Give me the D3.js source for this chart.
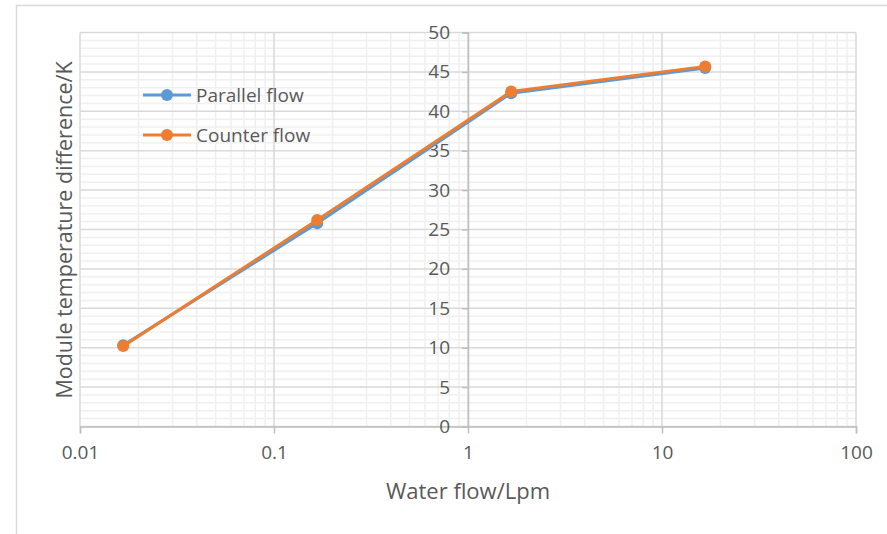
<!DOCTYPE html>
<html>
<head>
<style>
  body { margin: 0; background: #fff; }
  text { font-family: "Open Sans", sans-serif; fill: #595959; }
</style>
</head>
<body>
<div id="chart"></div>
<script src="https://d3js.org/d3.v7.min.js"></script>
<script>
// data
var flow = [0.0167, 0.167, 1.67, 16.7]
var parallelFlow = [10.3, 25.8, 42.3, 45.5]
var counterFlow = [10.2, 26.2, 42.5, 45.7]
var xTicks = [0.01, 0.1, 1, 10, 100]
var yTicks = [0, 5, 10, 15, 20, 25, 30, 35, 40, 45, 50]
var seriesNames = ["Parallel flow", "Counter flow"]
var seriesColors = ["#5b9bd5", "#ed7d31"]

var width = 887, height = 534

var svg = d3.select("#chart").append("svg")
  .attr("width", width)
  .attr("height", height)

// outer chart frame
svg.append("rect")
  .attr("x", 16.5).attr("y", 5.5)
  .attr("width", 900).attr("height", 600)
  .attr("fill", "none").attr("stroke", "#d9d9d9").attr("stroke-width", 1.5)

var x = d3.scaleLog().domain([0.01, 100]).range([80, 856])
var y = d3.scaleLinear().domain([0, 50]).range([426.5, 32.5])

var grid = svg.append("g")

// minor vertical gridlines (2..9 of each decade)
var minorX = []
xTicks.slice(0, -1).forEach(function(d) {
  for (var k = 2; k <= 9; k++) minorX.push(d * k)
})
grid.selectAll(".vminor").data(minorX).enter().append("line")
  .attr("x1", function(d) { return x(d) }).attr("x2", function(d) { return x(d) })
  .attr("y1", y(0)).attr("y2", y(50))
  .attr("stroke", "#f0f0f0").attr("stroke-width", 1.5)

// minor horizontal gridlines every 1
var minorY = d3.range(0, 51).filter(function(d) { return d % 5 != 0 })
grid.selectAll(".hminor").data(minorY).enter().append("line")
  .attr("x1", x(0.01)).attr("x2", x(100))
  .attr("y1", function(d) { return y(d) }).attr("y2", function(d) { return y(d) })
  .attr("stroke", "#f0f0f0").attr("stroke-width", 1.5)

// major gridlines
grid.selectAll(".vmajor").data(xTicks).enter().append("line")
  .attr("x1", function(d) { return x(d) }).attr("x2", function(d) { return x(d) })
  .attr("y1", y(0)).attr("y2", y(50))
  .attr("stroke", "#d9d9d9").attr("stroke-width", 1.5)
grid.selectAll(".hmajor").data(yTicks).enter().append("line")
  .attr("x1", x(0.01)).attr("x2", x(100))
  .attr("y1", function(d) { return y(d) }).attr("y2", function(d) { return y(d) })
  .attr("stroke", "#d9d9d9").attr("stroke-width", 1.5)

// x axis along y = 0
var xAxis = svg.append("g")
  .attr("transform", "translate(0," + y(0) + ")")
  .call(d3.axisBottom(x).tickValues(xTicks).tickSize(7).tickPadding(12)
    .tickFormat(function(d) { return String(d) }))
xAxis.select(".domain").attr("stroke", "#bfbfbf").attr("stroke-width", 1.5)
xAxis.selectAll(".tick line").attr("stroke", "#bfbfbf").attr("stroke-width", 1.5)
xAxis.selectAll("text").style("font-size", "19px").attr("fill", "#595959")

// y axis crossing at x = 1
var yAxis = svg.append("g")
  .attr("transform", "translate(" + x(1) + ",0)")
  .call(d3.axisLeft(y).tickValues(yTicks).tickSize(6).tickPadding(12))
yAxis.select(".domain").attr("stroke", "#bfbfbf").attr("stroke-width", 1.5)
yAxis.selectAll(".tick line").attr("stroke", "#bfbfbf").attr("stroke-width", 1.5)
yAxis.selectAll("text").style("font-size", "19px").attr("fill", "#595959")

// series
var allSeries = [parallelFlow, counterFlow]
var line = d3.line()
  .x(function(d, i) { return x(flow[i]) })
  .y(function(d) { return y(d) })

allSeries.forEach(function(vals, s) {
  var g = svg.append("g")
  g.append("path").datum(vals)
    .attr("d", line)
    .attr("fill", "none")
    .attr("stroke", seriesColors[s])
    .attr("stroke-width", 3)
    .attr("stroke-linejoin", "round")
  g.selectAll("circle").data(vals).enter().append("circle")
    .attr("cx", function(d, i) { return x(flow[i]) })
    .attr("cy", function(d) { return y(d) })
    .attr("r", 6)
    .attr("fill", seriesColors[s])
})

// legend
var legend = svg.append("g").attr("transform", "translate(143,95)")
seriesNames.forEach(function(name, i) {
  var row = legend.append("g").attr("transform", "translate(0," + (i * 40) + ")")
  row.append("line").attr("x1", 0).attr("x2", 48).attr("y1", 0).attr("y2", 0)
    .attr("stroke", seriesColors[i]).attr("stroke-width", 3)
  row.append("circle").attr("cx", 24).attr("cy", 0).attr("r", 6).attr("fill", seriesColors[i])
  row.append("text").attr("x", 53).attr("y", 7).style("font-size", "19px").text(name)
})

// axis titles
svg.append("text")
  .attr("x", x(1)).attr("y", 499)
  .attr("text-anchor", "middle")
  .style("font-size", "22px")
  .text("Water flow/Lpm")

svg.append("text")
  .attr("transform", "translate(72," + 230 + ") rotate(-90)")
  .attr("text-anchor", "middle")
  .style("font-size", "21.5px")
  .text("Module temperature difference/K")
</script>
</body>
</html>
